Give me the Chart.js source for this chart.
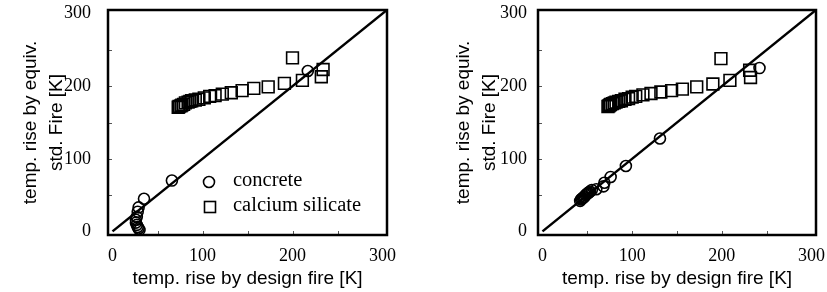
<!DOCTYPE html>
<html>
<head>
<meta charset="utf-8">
<script src="https://cdn.jsdelivr.net/npm/chart.js@4.4.1/dist/chart.umd.min.js"></script>
<style>
body { margin: 0; background: #fff; }
.wrap { position: absolute; top: 0; height: 292px; }
</style>
</head>
<body>
<div class="wrap" style="left:0;width:420px"><canvas id="left"></canvas></div>
<div class="wrap" style="left:420px;width:407px"><canvas id="right"></canvas></div>
<script>
// axes
var axisMin = -5, axisMax = 305;
var tickValues = [0, 100, 200, 300];
var minorTicks = [50, 100, 150, 200, 250];
var xTitle = 'temp. rise by design fire [K]';
var yTitle = ['temp. rise by equiv.', 'std. Fire [K]'];
var parity = [0, 305];
var seriesNames = ['concrete', 'calcium silicate'];

// left panel
var concreteLX = [66, 35, 29, 28, 27, 26, 26, 27, 28, 29, 30, 217];
var concreteLY = [70, 45, 33, 27, 20, 16, 12, 9, 6, 4, 2, 221];
var calsilLX = [200, 234, 232, 211, 191, 173, 157, 144, 132, 122, 114, 108, 102, 96, 92, 88, 86, 84, 81, 79, 77, 76, 74, 73];
var calsilLY = [239, 223, 213, 208, 204, 199, 197, 194, 191, 189, 187, 186, 184, 182, 181, 180, 179, 178, 177, 175, 174, 173, 172, 171];

// right panel
var concreteRX = [242, 131, 93, 76, 69, 68, 60, 55, 53, 52, 51, 50, 49, 48, 47, 46, 45, 44, 43, 42];
var concreteRY = [225, 128, 90, 75, 67, 62, 58, 57, 55, 54, 53, 52, 51, 50, 48, 47, 46, 45, 44, 42];
var calsilRX = [199, 231, 232, 209, 190, 172, 156, 144, 132, 121, 112, 104, 100, 96, 92, 88, 85, 82, 80, 78, 76, 75, 74, 73];
var calsilRY = [238, 222, 212, 208, 203, 199, 196, 194, 192, 190, 188, 186, 185, 183, 182, 180, 179, 178, 177, 176, 175, 174, 173, 172];

function pts(xs, ys) {
  return xs.map(function(x, i) { return {x: x, y: ys[i]}; });
}

// box round the plot + small inner ticks
var frame = {
  id: 'frame',
  afterDatasetsDraw: function(chart) {
    var a = chart.chartArea, c = chart.ctx;
    var sx = chart.scales.x, sy = chart.scales.y;
    c.save();
    c.strokeStyle = '#555';
    c.lineWidth = 1;
    c.beginPath();
    minorTicks.forEach(function(v) {
      var px = Math.round(sx.getPixelForValue(v)) + 0.5;
      c.moveTo(px, a.bottom); c.lineTo(px, a.bottom - 4);
      var py = Math.round(sy.getPixelForValue(v)) + 0.5;
      c.moveTo(a.left, py); c.lineTo(a.left + 4, py);
    });
    c.stroke();
    c.strokeStyle = '#000';
    c.lineWidth = 2.5;
    c.strokeRect(a.left, a.top, a.right - a.left, a.bottom - a.top);
    c.restore();
  }
};

var boxLegend = {
  id: 'boxLegend',
  afterDraw: function(chart) {
    if (!chart.options.plugins.boxLegend.show) return;
    var a = chart.chartArea, c = chart.ctx;
    c.save();
    c.strokeStyle = '#000';
    c.lineWidth = 1.6;
    c.beginPath();
    c.arc(a.left + 101, a.top + 172, 5.5, 0, Math.PI * 2);
    c.stroke();
    c.strokeRect(a.left + 96.5, a.top + 191.5, 11, 11);
    c.fillStyle = '#000';
    c.font = '20.5px "Liberation Serif", "Times New Roman", serif';
    c.textBaseline = 'middle';
    c.fillText(seriesNames[0], a.left + 125, a.top + 171);
    c.fillText(seriesNames[1], a.left + 125, a.top + 196);
    c.restore();
  }
};

function makeChart(id, cx, cy, sx, sy, yWidth, yTickPad, yTitlePad, padRight, showLegend) {
  var ctx = document.getElementById(id).getContext('2d');
  return new Chart(ctx, {
    type: 'scatter',
    data: {
      datasets: [
        {
          label: seriesNames[0],
          data: pts(cx, cy),
          pointStyle: 'circle',
          pointRadius: 5.5,
          borderColor: '#000',
          backgroundColor: 'rgba(0,0,0,0)',
          borderWidth: 1.6
        },
        {
          label: seriesNames[1],
          data: pts(sx, sy),
          pointStyle: 'rect',
          pointRadius: 8.3,
          borderColor: '#000',
          backgroundColor: 'rgba(0,0,0,0)',
          borderWidth: 1.6
        },
        {
          type: 'line',
          label: '1:1',
          data: pts(parity, parity),
          borderColor: '#000',
          borderWidth: 2.5,
          pointRadius: 0,
          fill: false
        }
      ]
    },
    options: {
      responsive: true,
      maintainAspectRatio: false,
      animation: false,
      layout: { padding: { top: 10, right: padRight, bottom: 0, left: 0 } },
      plugins: {
        legend: { display: false },
        tooltip: { enabled: false },
        boxLegend: { show: showLegend }
      },
      scales: {
        x: {
          type: 'linear',
          min: axisMin,
          max: axisMax,
          grid: { display: false, drawTicks: false },
          border: { display: false },
          afterBuildTicks: function(s) { s.ticks = tickValues.map(function(v) { return {value: v}; }); },
          afterFit: function(s) { s.height = 57; s.paddingLeft = 0; s.paddingRight = 0; },
          ticks: {
            padding: 10,
            color: '#000',
            maxRotation: 0,
            font: { family: '"Liberation Serif", "Times New Roman", serif', size: 18 }
          },
          title: {
            display: true,
            text: xTitle,
            color: '#000',
            padding: { top: 0, bottom: 2 },
            font: { family: '"Liberation Sans", Arial, sans-serif', size: 19, lineHeight: 1.2 }
          }
        },
        y: {
          type: 'linear',
          min: axisMin,
          max: axisMax,
          grid: { display: false, drawTicks: false },
          border: { display: false },
          afterBuildTicks: function(s) { s.ticks = tickValues.map(function(v) { return {value: v}; }); },
          afterFit: function(s) { s.width = yWidth; s.paddingTop = 0; s.paddingBottom = 0; },
          ticks: {
            padding: yTickPad,
            color: '#000',
            font: { family: '"Liberation Serif", "Times New Roman", serif', size: 18 }
          },
          title: {
            display: true,
            text: yTitle,
            color: '#000',
            padding: { top: yTitlePad, bottom: 0 },
            font: { family: '"Liberation Sans", Arial, sans-serif', size: 19, lineHeight: 1.4 }
          }
        }
      }
    },
    plugins: [frame, boxLegend]
  });
}

makeChart('left', concreteLX, concreteLY, calsilLX, calsilLY, 108, 17, 17, 33, true);
makeChart('right', concreteRX, concreteRY, calsilRX, calsilRY, 118, 11, 30, 11, false);
</script>
</body>
</html>
